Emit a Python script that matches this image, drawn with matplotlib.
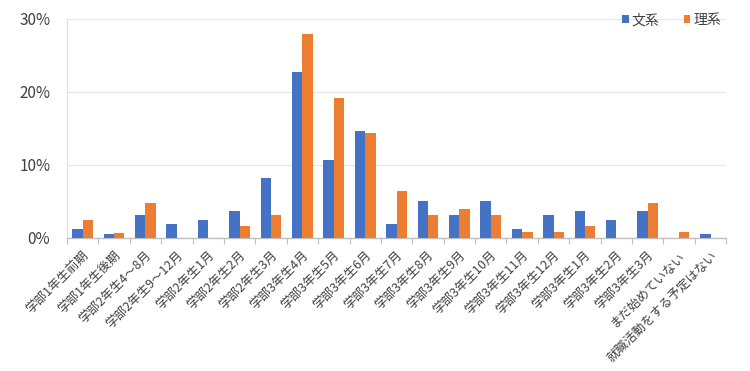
import matplotlib
matplotlib.use("Agg")
import matplotlib.pyplot as plt
import numpy as np
from matplotlib.ticker import FuncFormatter, FixedLocator

plt.rcParams['font.family'] = ['Noto Sans CJK JP', 'DejaVu Sans']

categories = ["学部1年生前期", "学部1年生後期", "学部2年生4～8月", "学部2年生9～12月",
              "学部2年生1月", "学部2年生2月", "学部2年生3月", "学部3年生4月",
              "学部3年生5月", "学部3年生6月", "学部3年生7月", "学部3年生8月",
              "学部3年生9月", "学部3年生10月", "学部3年生11月", "学部3年生12月",
              "学部3年生1月", "学部3年生2月", "学部3年生3月", "まだ始めていない",
              "就職活動をする予定はない"]
bunkei = [1.2, 0.6, 3.1, 1.9, 2.5, 3.7, 8.2, 22.8, 10.7, 14.6, 1.9, 5.0,
          3.1, 5.0, 1.2, 3.1, 3.7, 2.5, 3.7, 0.0, 0.6]
rikei = [2.4, 0.7, 4.8, 0.0, 0.0, 1.6, 3.2, 28.0, 19.2, 14.4, 6.4, 3.2,
         4.0, 3.2, 0.8, 0.8, 1.6, 0.0, 4.8, 0.8, 0.0]
series_names = ["文系", "理系"]
yticks = [0, 10, 20, 30]

blue = "#4472C4"
orange = "#ED7D31"
text_color = "#404040"

fig = plt.figure(figsize=(7.5, 3.71), dpi=100)
ax = fig.add_axes([0.0893, 0.3585, 0.879, 0.5903])

x = np.arange(len(categories))
w = 0.33
ax.bar(x - w / 2, bunkei, width=w, color=blue, label=series_names[0], zorder=3)
ax.bar(x + w / 2, rikei, width=w, color=orange, label=series_names[1], zorder=3)

ax.set_xlim(-0.5, len(categories) - 0.5)
ax.set_ylim(0, 30)
ax.set_yticks(yticks)
ax.yaxis.set_major_formatter(FuncFormatter(lambda v, p: f"{int(v)}%"))
ax.grid(axis="y", color="#E6E6E6", linewidth=0.8, zorder=0)

ax.set_xticks(x)
ax.set_xticklabels(categories, rotation=45, ha="right", rotation_mode="anchor",
                   fontsize=9, color=text_color)
ax.tick_params(axis="x", length=0, pad=8)
ax.xaxis.set_minor_locator(FixedLocator(np.arange(-0.5, len(categories), 1.0)))
ax.tick_params(axis="x", which="minor", length=4, color="#BFBFBF", width=0.8)
ax.tick_params(axis="y", length=0, labelsize=11, labelcolor=text_color, pad=12)

for s in ["top", "right"]:
    ax.spines[s].set_visible(False)
ax.spines["left"].set_color("#E0E0E0")
ax.spines["bottom"].set_color("#BFBFBF")
ax.spines["bottom"].set_linewidth(1.0)

leg = ax.legend(loc="center right", bbox_to_anchor=(0.992, 0.995), ncol=2, frameon=False,
                fontsize=10, handlelength=0.45, handleheight=0.45, handletextpad=0.2,
                columnspacing=1.8, borderpad=0, borderaxespad=0)
for t in leg.get_texts():
    t.set_color(text_color)

fig.savefig("out.png", dpi=100)
